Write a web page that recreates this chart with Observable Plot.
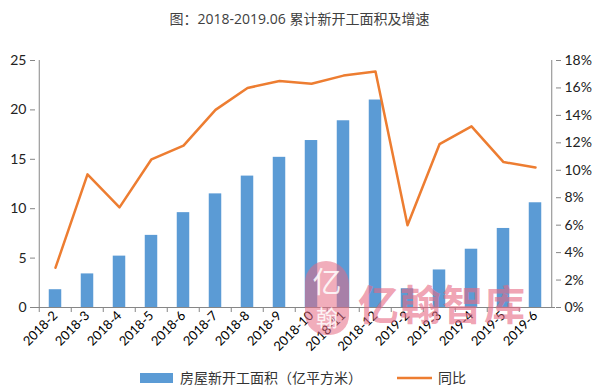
<!DOCTYPE html>
<html>
<head>
<meta charset="utf-8">
<script src="https://cdn.jsdelivr.net/npm/d3@7"></script>
<script src="https://cdn.jsdelivr.net/npm/@observablehq/plot@0.6"></script>
<style>
  body { margin: 0; background: #fff; }
  #wrap { position: relative; width: 599px; height: 390px; overflow: hidden; font-family: Lato, "Noto Sans CJK SC", sans-serif; }
  #title { height: 34px; line-height: 38px; text-align: center; font-family: "Open Sans", "Noto Sans CJK SC", sans-serif; font-size: 14px; color: #404040; }
  #legend { position: absolute; left: 0; top: 367px; width: 599px; height: 22px; font-size: 14px; color: #333; }
  .wm { position: absolute; left: 358px; top: 272px; font-family: "Noto Sans CJK SC", sans-serif; font-weight: bold; font-size: 41px; letter-spacing: 1px; color: rgba(230, 105, 132, 0.62); pointer-events: none; white-space: nowrap; }
  .logo { position: absolute; left: 305px; top: 261px; width: 44px; height: 74px; border-radius: 22px 24px 20px 22px; background: rgba(230, 105, 132, 0.55); pointer-events: none; }
  .logo span { position: absolute; left: 0; width: 44px; text-align: center; line-height: 1; font-family: "Noto Sans CJK SC", sans-serif; color: rgba(255,255,255,0.85); }
</style>
</head>
<body>
<div id="wrap">
  <div id="title">图：2018-2019.06 累计新开工面积及增速</div>
  <div id="chart"></div>
  <div id="legend"></div>
  <div class="logo"><span style="top:5px;font-size:29px;">亿</span><span style="top:44px;font-size:22px;">翰</span></div>
  <div class="wm">亿翰智库</div>
</div>
<script>
const categories = ["2018-2","2018-3","2018-4","2018-5","2018-6","2018-7","2018-8","2018-9","2018-10","2018-11","2018-12","2019-2","2019-3","2019-4","2019-5","2019-6"];
const areaValues = [1.8, 3.4, 5.2, 7.3, 9.6, 11.5, 13.3, 15.2, 16.9, 18.9, 21.0, 1.9, 3.8, 5.9, 8.0, 10.6];
const yoyValues = [2.9, 9.7, 7.3, 10.8, 11.8, 14.4, 16.0, 16.5, 16.3, 16.9, 17.2, 6.0, 11.9, 13.2, 10.6, 10.2];
const leftTicks = [0, 5, 10, 15, 20, 25];
const rightTicks = [0, 2, 4, 6, 8, 10, 12, 14, 16, 18];
const seriesNames = ["房屋新开工面积（亿平方米）", "同比"];

const leftMax = 25, rightMax = 18;
const toLeft = p => p * leftMax / rightMax;
const rows = categories.map((c, i) => ({cat: c, area: areaValues[i], yoy: yoyValues[i]}));

const W = 599, H = 330;
const mL = 35, mR = 44, mT = 26, mB = 57;
const bw = (W - mL - mR) / categories.length;
const barColor = "#5B9BD5", lineColor = "#ED7D31", axisColor = "#868686";

const chart = Plot.plot({
  width: W, height: H,
  marginLeft: mL, marginRight: mR, marginTop: mT, marginBottom: mB,
  style: {fontFamily: "Lato, sans-serif", fontSize: "14px", color: "#333", background: "transparent"},
  x: {domain: categories, padding: 0, label: null},
  y: {domain: [0, leftMax], label: null},
  marks: [
    Plot.barY(rows, {x: "cat", y: "area", fill: barColor, insetLeft: (bw - 13) / 2, insetRight: (bw - 13) / 2}),
    Plot.lineY(rows, {x: "cat", y: d => toLeft(d.yoy), stroke: lineColor, strokeWidth: 2.5, strokeLinejoin: "round"}),
    Plot.ruleY([0], {stroke: axisColor}),
    Plot.ruleX([categories[0]], {dx: -bw / 2, stroke: axisColor}),
    Plot.ruleX([categories[categories.length - 1]], {dx: bw / 2, stroke: axisColor}),
    Plot.axisX({ticks: categories, tickFormat: () => "", tickSize: 5, dx: -bw / 2, stroke: axisColor}),
    Plot.axisX({tickSize: 0, tickPadding: 6, tickRotate: -45, fontSize: 13, label: null, fill: "#000"}),
    Plot.axisY({anchor: "left", ticks: leftTicks, tickSize: 5, tickPadding: 4, label: null, stroke: axisColor, fill: "#222"}),
    Plot.axisY({anchor: "right", ticks: rightTicks.map(toLeft), tickFormat: v => Math.round(v * rightMax / leftMax) + "%", tickSize: 5, tickPadding: 4, label: null, stroke: axisColor, fill: "#222"})
  ]
});
document.getElementById("chart").appendChild(chart);

// legend
const leg = d3.select("#legend").append("svg").attr("width", 599).attr("height", 22);
leg.append("rect").attr("x", 140).attr("y", 6).attr("width", 33).attr("height", 10).attr("fill", barColor);
leg.append("text").attr("x", 180).attr("y", 16).attr("font-size", 14).attr("fill", "#333").attr("font-family", "Noto Sans CJK SC").text(seriesNames[0]);
leg.append("line").attr("x1", 397).attr("x2", 432).attr("y1", 11).attr("y2", 11).attr("stroke", lineColor).attr("stroke-width", 2.5);
leg.append("text").attr("x", 438).attr("y", 16).attr("font-size", 14).attr("fill", "#333").attr("font-family", "Noto Sans CJK SC").text(seriesNames[1]);
</script>
</body>
</html>
